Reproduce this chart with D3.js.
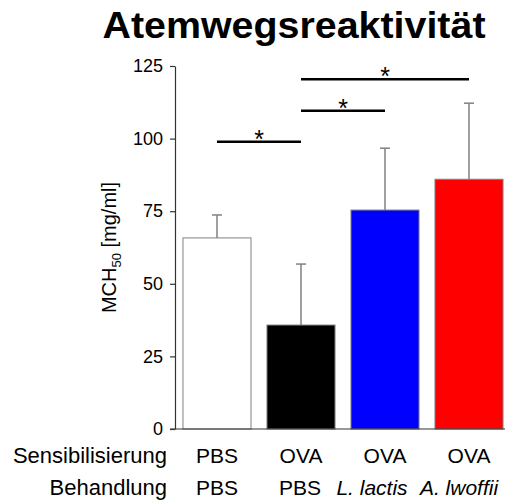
<!DOCTYPE html>
<html>
<head>
<meta charset="utf-8">
<script src="https://cdn.jsdelivr.net/npm/d3@7"></script>
<style>
  body { margin: 0; background: #fff; }
  svg { display: block; font-family: "Liberation Sans", Arial, sans-serif; }
</style>
</head>
<body>
<svg width="512" height="502"></svg>
<script>
// values
const groups = ['g1', 'g2', 'g3', 'g4'];
const sensibilisierung = ['PBS', 'OVA', 'OVA', 'OVA'];
const behandlung = ['PBS', 'PBS', 'L. lactis', 'A. lwoffii'];
const means = [65.8, 35.8, 75.4, 86.0];
const errors = [7.9, 21.0, 21.3, 26.2];
const colors = ['#ffffff', '#000000', '#0000ff', '#ff0000'];
const yTicks = [0, 25, 50, 75, 100, 125];
// significance brackets: [from, to, level]
const sigPairs = [[0, 1, 98.9], [1, 2, 109.6], [1, 3, 120.4]];

const svg = d3.select('svg');

const x = d3.scaleBand()
  .domain(groups)
  .range([175, 511])
  .paddingInner(0.19)
  .paddingOuter(0.095);

const y = d3.scaleLinear().domain([0, 125]).range([429, 66]);

// title
svg.append('text')
  .attr('x', 294)
  .attr('y', 38)
  .attr('text-anchor', 'middle')
  .attr('font-size', 37)
  .attr('font-weight', 'bold')
  .attr('textLength', 383)
  .attr('lengthAdjust', 'spacingAndGlyphs')
  .text('Atemwegsreaktivität');

// bars
svg.selectAll('.bar')
  .data(means)
  .join('rect')
    .attr('class', 'bar')
    .attr('x', (d, i) => x(groups[i]))
    .attr('y', d => y(d))
    .attr('width', x.bandwidth())
    .attr('height', d => y(0) - y(d))
    .attr('fill', (d, i) => colors[i])
    .attr('stroke', '#808080')
    .attr('stroke-width', 1);

// error bars
const eb = svg.selectAll('.err')
  .data(means)
  .join('g')
    .attr('class', 'err')
    .attr('transform', (d, i) => `translate(${x(groups[i]) + x.bandwidth() / 2},0)`);
eb.append('line')
  .attr('y1', d => y(d))
  .attr('y2', (d, i) => y(d + errors[i]))
  .attr('stroke', '#808080')
  .attr('stroke-width', 1.5);
eb.append('line')
  .attr('x1', -5).attr('x2', 5)
  .attr('y1', (d, i) => y(d + errors[i]))
  .attr('y2', (d, i) => y(d + errors[i]))
  .attr('stroke', '#808080')
  .attr('stroke-width', 1.5);

// y axis
const yAxis = d3.axisLeft(y).tickValues(yTicks).tickSize(5).tickSizeOuter(0).tickPadding(7);
const ga = svg.append('g')
  .attr('transform', 'translate(175,0)')
  .call(yAxis);
ga.select('.domain').attr('stroke', '#333').attr('stroke-width', 1.2);
ga.selectAll('.tick line').attr('stroke', '#333').attr('stroke-width', 1.2);
ga.selectAll('.tick text')
  .attr('font-size', 18)
  .attr('font-family', '"Liberation Sans", Arial, sans-serif')
  .attr('fill', '#000');

// x baseline
svg.append('line')
  .attr('x1', 170).attr('x2', x.range()[1] - 6)
  .attr('y1', y(0)).attr('y2', y(0))
  .attr('stroke', '#333')
  .attr('stroke-width', 1.2);

// y label
const yl = svg.append('text')
  .attr('transform', `translate(116,${(y(0) + y(125)) / 2 + 0}) rotate(-90)`)
  .attr('text-anchor', 'middle')
  .attr('font-size', 20);
yl.append('tspan').text('MCH');
yl.append('tspan').attr('font-size', 13).attr('dy', 5).text('50');
yl.append('tspan').attr('dy', -5).text(' [mg/ml]');

// significance brackets
const cx = i => x(groups[i]) + x.bandwidth() / 2;
svg.selectAll('.sig')
  .data(sigPairs)
  .join('line')
    .attr('class', 'sig')
    .attr('x1', d => cx(d[0]))
    .attr('x2', d => cx(d[1]))
    .attr('y1', d => y(d[2]))
    .attr('y2', d => y(d[2]))
    .attr('stroke', '#000')
    .attr('stroke-width', 2.5);
svg.selectAll('.star')
  .data(sigPairs)
  .join('text')
    .attr('class', 'star')
    .attr('x', d => (cx(d[0]) + cx(d[1])) / 2)
    .attr('y', d => y(d[2]) + 6)
    .attr('text-anchor', 'middle')
    .attr('font-size', 25)
    .attr('fill', '#000')
    .text('*');

// category rows
svg.append('text')
  .attr('x', 167).attr('y', 463)
  .attr('text-anchor', 'end')
  .attr('font-size', 22)
  .text('Sensibilisierung');
svg.append('text')
  .attr('x', 167).attr('y', 495)
  .attr('text-anchor', 'end')
  .attr('font-size', 22)
  .text('Behandlung');

svg.selectAll('.sens')
  .data(sensibilisierung)
  .join('text')
    .attr('class', 'sens')
    .attr('x', (d, i) => cx(i))
    .attr('y', 463)
    .attr('text-anchor', 'middle')
    .attr('font-size', 21)
    .text(d => d);

const shift = [0, -1, -13, -10];
svg.selectAll('.beh')
  .data(behandlung)
  .join('text')
    .attr('class', 'beh')
    .attr('x', (d, i) => cx(i) + shift[i])
    .attr('y', 495)
    .attr('text-anchor', 'middle')
    .attr('font-size', 21)
    .attr('font-style', (d, i) => i > 1 ? 'italic' : 'normal')
    .text(d => d);
</script>
</body>
</html>
